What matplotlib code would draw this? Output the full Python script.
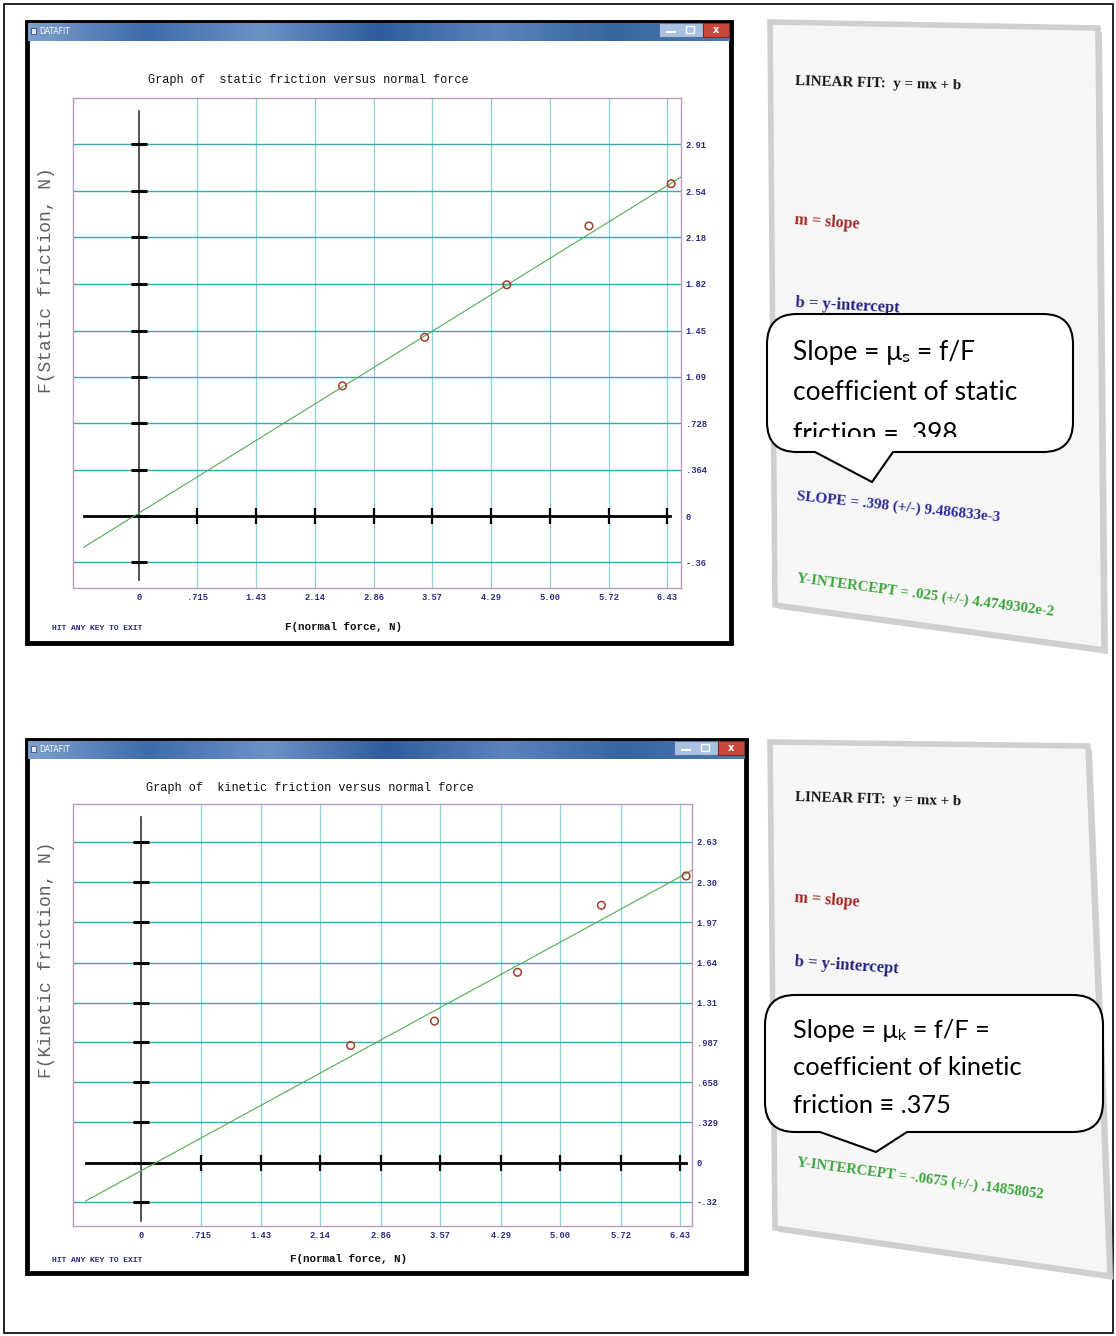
import numpy as np
import matplotlib
matplotlib.use('Agg')
import matplotlib.pyplot as plt
from matplotlib.patches import Rectangle, Polygon, PathPatch
from matplotlib.path import Path
from matplotlib.colors import LinearSegmentedColormap
from matplotlib.transforms import Bbox, TransformedBbox

# static friction data (normal force F, friction f)
normal_static = [2.48, 3.48, 4.48, 5.48, 6.48]
friction_static = [1.02, 1.40, 1.81, 2.27, 2.60]
slope_static, icpt_static = 0.398, 0.025

# kinetic friction data
normal_kinetic = [2.50, 3.50, 4.49, 5.49, 6.50]
friction_kinetic = [0.96, 1.16, 1.56, 2.11, 2.35]
slope_kinetic, icpt_kinetic = 0.375, -0.0675

x_ticks = [0, 0.715, 1.43, 2.14, 2.86, 3.57, 4.29, 5.00, 5.72, 6.43]
x_labels = ['0', '.715', '1.43', '2.14', '2.86', '3.57', '4.29', '5.00', '5.72', '6.43']
y_ticks_static = [-0.36, 0, 0.364, 0.728, 1.09, 1.45, 1.82, 2.18, 2.54, 2.91]
y_labels_static = ['-.36', '0', '.364', '.728', '1.09', '1.45', '1.82', '2.18', '2.54', '2.91']
y_ticks_kinetic = [-0.32, 0, 0.329, 0.658, 0.987, 1.31, 1.64, 1.97, 2.30, 2.63]
y_labels_kinetic = ['-.32', '0', '.329', '.658', '.987', '1.31', '1.64', '1.97', '2.30', '2.63']

W, H = 1116, 1336
MONO = 'Liberation Mono'
SERIF = 'Liberation Serif'
SANS = ['Lato', 'Open Sans', 'DejaVu Sans']

fig = plt.figure(figsize=(W / 100, H / 100), dpi=100)
bg = fig.add_axes([0, 0, 1, 1])
bg.axis('off')

bar_cmap = LinearSegmentedColormap.from_list(
    'bar', ['#7d9fcb', '#3d6bac', '#6d93c6', '#2f5c9f', '#5b84bc', '#36659f', '#4d79b5'])


def window(x0, y0, x1, y1):
    bg.add_patch(Rectangle((x0, y0), x1 - x0, y1 - y0, fc='white', ec='black', lw=3.5, zorder=1))
    grad = np.linspace(0, 1, 300).reshape(1, -1)
    bg.imshow(grad, extent=(x0 + 1, x1 - 1, y0 + 19, y0 + 1), cmap=bar_cmap, aspect='auto', zorder=2)
    bg.add_patch(Rectangle((x0 + 4, y0 + 6), 5, 6, fc='#dfe8f3', ec='#333355', lw=0.5, zorder=3))
    bg.text(x0 + 12, y0 + 10, 'DATAFIT', color='white', size=5.5, va='center', family='DejaVu Sans', zorder=3)
    bg.add_patch(Rectangle((x1 - 72, y0 + 1), 44, 14, fc='#a9c2e2', ec='#56739c', lw=0.8, zorder=3))
    bg.add_patch(Rectangle((x1 - 28, y0 + 1), 26, 14, fc='#c9473b', ec='#7a2a22', lw=0.8, zorder=3))
    bg.text(x1 - 15, y0 + 8, 'x', color='white', size=7, weight='bold', ha='center', va='center', zorder=4)
    bg.add_patch(Rectangle((x1 - 45, y0 + 4), 8, 7, fc='none', ec='white', lw=1, zorder=4))
    bg.plot([x1 - 64, x1 - 56], [y0 + 10, y0 + 10], color='white', lw=1.5, zorder=4)


def friction_plot(box, xlim, ylim, yt, ylab, xs, ys, m, b, axis_x, axis_y, fit_x):
    x0, y0, x1, y1 = box
    ax = fig.add_axes([x0 / W, 1 - y1 / H, (x1 - x0) / W, (y1 - y0) / H])
    ax.set_facecolor('white')
    ax.set_xlim(*xlim)
    ax.set_ylim(*ylim)
    for sp in ax.spines.values():
        sp.set_color('#b99bbb')
        sp.set_linewidth(1.0)
    for t in x_ticks[1:]:
        ax.axvline(t, color='#8fd2da', lw=0.9, zorder=1)
    for t in yt:
        if t != 0:
            ax.axhline(t, color='#35abac', lw=1.0, zorder=1)
    ax.plot(axis_x, [0, 0], color='black', lw=2, zorder=3)
    ax.plot([0, 0], axis_y, color='#333333', lw=1.2, zorder=3)
    ax.plot(x_ticks[1:], [0] * (len(x_ticks) - 1), ls='none', marker='|', ms=11, mew=1.6,
            color='black', zorder=3)
    ax.plot([0] * len(yt), yt, ls='none', marker='_', ms=12, mew=2.2, color='black', zorder=3)
    fx = np.array(fit_x)
    ax.plot(fx, m * fx + b, color='#52ad52', lw=0.8, zorder=4)
    ax.scatter(xs, ys, s=30, facecolors='none', edgecolors='#a2402c', lw=1.1, zorder=5)
    ax.set_xticks(x_ticks)
    ax.set_xticklabels(x_labels)
    ax.yaxis.tick_right()
    ax.set_yticks(yt)
    ax.set_yticklabels(ylab)
    ax.tick_params(length=0, labelsize=6.3, labelcolor='#2c2c80', pad=3.5)
    for lab in ax.get_xticklabels() + ax.get_yticklabels():
        lab.set_family(MONO)
        lab.set_fontweight('bold')
    return ax


def panel(pts):
    shadow = [(x + 4, y + 4) for x, y in pts]
    bg.add_patch(Polygon(shadow, closed=True, fc='#b5b5b5', ec='none', alpha=0.6, zorder=1))
    bg.add_patch(Polygon(pts, closed=True, fc='#f6f6f6', ec='#cfcfcf', lw=4, zorder=2))


def callout(x0, y0, x1, y1, bl, tip, br, r=30):
    verts = [(x0 + r, y0), (x1 - r, y0), (x1, y0), (x1, y0 + r), (x1, y1 - r), (x1, y1), (x1 - r, y1),
             (br, y1), tip, (bl, y1), (x0 + r, y1), (x0, y1), (x0, y1 - r), (x0, y0 + r), (x0, y0),
             (x0 + r, y0), (x0 + r, y0)]
    codes = [Path.MOVETO, Path.LINETO, Path.CURVE3, Path.CURVE3, Path.LINETO, Path.CURVE3, Path.CURVE3,
             Path.LINETO, Path.LINETO, Path.LINETO, Path.LINETO, Path.CURVE3, Path.CURVE3, Path.LINETO,
             Path.CURVE3, Path.CURVE3, Path.CLOSEPOLY]
    bg.add_patch(PathPatch(Path(verts, codes), fc='white', ec='black', lw=1.5, zorder=6))


# outer frame
bg.add_patch(Rectangle((4, 4), 1109, 1329, fill=False, ec='black', lw=1.2, zorder=0))

# ---- top window: static friction
window(27, 22, 731, 643)
bg.text(148, 80, 'Graph of  static friction versus normal force', family=MONO, size=8.6,
        va='center', color='#111111', zorder=3)
bg.text(47, 280, 'F(Static friction, N)', rotation=90, ha='center', va='center', family=MONO,
        size=13, color='#606060', zorder=3)
bg.text(52, 628, 'HIT ANY KEY TO EXIT', family=MONO, size=5.8, weight='bold', va='center',
        color='#2c2c80', zorder=3)
bg.text(285, 627, 'F(normal force, N)', family=MONO, size=7.8, weight='bold', va='center',
        color='#111111', zorder=3)

# ---- bottom window: kinetic friction
window(27, 740, 746, 1273)
bg.text(146, 788, 'Graph of  kinetic friction versus normal force', family=MONO, size=8.6,
        va='center', color='#111111', zorder=3)
bg.text(47, 960, 'F(Kinetic friction, N)', rotation=90, ha='center', va='center', family=MONO,
        size=13, color='#606060', zorder=3)
bg.text(52, 1260, 'HIT ANY KEY TO EXIT', family=MONO, size=5.8, weight='bold', va='center',
        color='#2c2c80', zorder=3)
bg.text(290, 1259, 'F(normal force, N)', family=MONO, size=7.8, weight='bold', va='center',
        color='#111111', zorder=3)

# ---- right panels
panel([(770, 22), (1098, 28), (1104, 650), (775, 605)])
panel([(770, 742), (1088, 746), (1110, 1276), (775, 1228)])

txt = dict(family=SERIF, weight='bold', ha='left', va='center', rotation_mode='anchor', zorder=4)
bg.text(795, 82, 'LINEAR FIT:  y = mx + b', size=10.8, rotation=-1.5, color='#151515', **txt)
bg.text(795, 220, 'm = slope', size=11.5, rotation=-4, color='#a52424', **txt)
bg.text(795, 303, 'b = y-intercept', size=12, rotation=-3, color='#23237e', **txt)
bg.text(797, 496, 'SLOPE = .398 (+/-) 9.486833e-3', size=11, rotation=-6, color='#2a2a98', **txt)
bg.text(797, 578, 'Y-INTERCEPT = .025 (+/-) 4.4749302e-2', size=10.7, rotation=-7.5,
        color='#3aa43a', **txt)

bg.text(795, 798, 'LINEAR FIT:  y = mx + b', size=10.8, rotation=-1.5, color='#151515', **txt)
bg.text(795, 898, 'm = slope', size=11.5, rotation=-4, color='#a52424', **txt)
bg.text(795, 962, 'b = y-intercept', size=12, rotation=-4, color='#23237e', **txt)
bg.text(797, 1162, 'Y-INTERCEPT = -.0675 (+/-) .14858052', size=10.5, rotation=-7.5,
        color='#3aa43a', **txt)

# ---- callouts
callout(767, 314, 1073, 452, 815, (872, 482), 893)
callout(765, 995, 1103, 1132, 820, (876, 1152), 907)

ctext = dict(family=SANS, ha='left', va='baseline', color='black', zorder=7)
bg.text(793, 360, 'Slope = μₛ = f/F', size=19, **ctext)
bg.text(793, 400, 'coefficient of static', size=19, **ctext)
t = bg.text(793, 442, 'friction = .398', size=19, **ctext)
t.set_clip_box(TransformedBbox(Bbox([[767, 314], [1073, 437]]), bg.transData))
t.set_clip_on(True)

bg.text(793, 1038, 'Slope = μₖ = f/F =', size=18.3, **ctext)
bg.text(793, 1075, 'coefficient of kinetic', size=18.3, **ctext)
bg.text(793, 1113, 'friction ≡ .375', size=18.3, **ctext)

bg.set_xlim(0, W)
bg.set_ylim(H, 0)

# ---- plots
friction_plot((73, 98, 681, 588), (-0.80, 6.60), (-0.56, 3.27), y_ticks_static, y_labels_static,
              normal_static, friction_static, slope_static, icpt_static,
              (-0.67, 6.47), (-0.50, 3.17), (-0.67, 6.64))
friction_plot((73, 804, 692, 1226), (-0.81, 6.57), (-0.52, 2.94), y_ticks_kinetic, y_labels_kinetic,
              normal_kinetic, friction_kinetic, slope_kinetic, icpt_kinetic,
              (-0.66, 6.50), (-0.48, 2.83), (-0.66, 6.59))

fig.savefig('out.png', dpi=100)
